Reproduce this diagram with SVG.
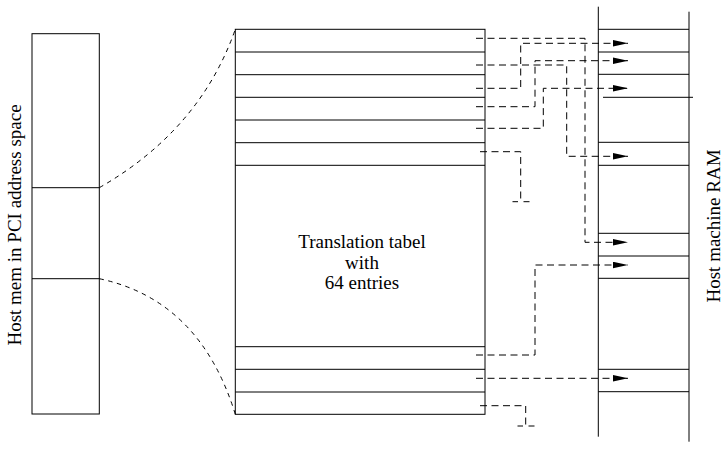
<svg xmlns="http://www.w3.org/2000/svg" width="726" height="454" viewBox="0 0 726 454">
  <style>
    .box { fill: none; stroke: #000; stroke-width: 1; }
    .sep { stroke: #000; stroke-width: 1; }
    .map { fill: none; stroke: #000; stroke-width: 1; stroke-dasharray: 4.5 4.5; }
    .ptr { fill: none; stroke: #000; stroke-width: 1; stroke-dasharray: 7 4.5; }
    .lbl { font-family: "Liberation Serif", "Times New Roman", serif; font-size: 19px; fill: #000; }
  </style>
  <defs>
    <marker id="head" markerUnits="userSpaceOnUse" markerWidth="15" markerHeight="7" refX="15" refY="3.25" orient="auto">
      <path d="M0,0 L15,3.25 L0,6.5 Z" fill="#000"/>
    </marker>
  </defs>

  <!-- PCI address window -->
  <g id="pci-window">
    <rect class="box" x="32" y="33.7" width="67.3" height="380.3"/>
    <line class="sep" x1="32" y1="187.7" x2="99.3" y2="187.7"/>
    <line class="sep" x1="32" y1="278.7" x2="99.3" y2="278.7"/>
    <text class="lbl" transform="translate(21,225) rotate(-90)" text-anchor="middle">Host mem in PCI address space</text>
  </g>

  <!-- Translation table -->
  <g id="translation-table">
    <rect class="box" x="235.3" y="29.3" width="249.7" height="385"/>
    <line class="sep" x1="235.3" y1="52" x2="485" y2="52"/>
    <line class="sep" x1="235.3" y1="74.7" x2="485" y2="74.7"/>
    <line class="sep" x1="235.3" y1="97.3" x2="485" y2="97.3"/>
    <line class="sep" x1="235.3" y1="120" x2="485" y2="120"/>
    <line class="sep" x1="235.3" y1="142.7" x2="485" y2="142.7"/>
    <line class="sep" x1="235.3" y1="165.3" x2="485" y2="165.3"/>
    <line class="sep" x1="235.3" y1="346.7" x2="485" y2="346.7"/>
    <line class="sep" x1="235.3" y1="369.3" x2="485" y2="369.3"/>
    <line class="sep" x1="235.3" y1="392" x2="485" y2="392"/>
    <text class="lbl" x="362" y="248" text-anchor="middle">Translation tabel</text>
    <text class="lbl" x="362" y="268.5" text-anchor="middle">with</text>
    <text class="lbl" x="362" y="289" text-anchor="middle">64 entries</text>
  </g>

  <!-- Host RAM -->
  <g id="host-ram">
    <line class="sep" x1="598.3" y1="6.7" x2="598.3" y2="436.7"/>
    <line class="sep" x1="689" y1="11.7" x2="689" y2="441.7"/>
    <line class="sep" x1="598.3" y1="29.3" x2="689" y2="29.3"/>
    <line class="sep" x1="598.3" y1="52" x2="689" y2="52"/>
    <line class="sep" x1="598.3" y1="74.3" x2="689" y2="74.3"/>
    <line class="sep" x1="603" y1="97.3" x2="693" y2="97.3"/>
    <line class="sep" x1="598.3" y1="142.3" x2="689" y2="142.3"/>
    <line class="sep" x1="598.3" y1="165.3" x2="689" y2="165.3"/>
    <line class="sep" x1="598.3" y1="233.3" x2="689" y2="233.3"/>
    <line class="sep" x1="598.3" y1="256" x2="689" y2="256"/>
    <line class="sep" x1="598.3" y1="278.3" x2="689" y2="278.3"/>
    <line class="sep" x1="598.3" y1="369.3" x2="689" y2="369.3"/>
    <line class="sep" x1="598.3" y1="391.7" x2="689" y2="391.7"/>
    <text class="lbl" transform="translate(720,226) rotate(-90)" text-anchor="middle">Host machine RAM</text>
  </g>

  <!-- Connectors -->
  <g id="connectors">
    <!-- window edges mapped onto the table -->
    <path class="map" d="M99.3,187.7 Q200,130 235.3,29.3"/>
    <path class="map" d="M99.3,278.7 Q200,300 235.3,414.3"/>

    <!-- table entries pointing into RAM pages -->
    <path class="ptr" d="M476,38.3 H585 V242.3 H628" marker-end="url(#head)"/>
    <path class="ptr" d="M476,65 H566.7 V156.3 H628" marker-end="url(#head)"/>
    <path class="ptr" d="M476,88.3 H520.7 V43.3 H628" marker-end="url(#head)"/>
    <path class="ptr" d="M476,106.7 H535 V60.7 H628" marker-end="url(#head)"/>
    <path class="ptr" d="M476,128.3 H543.3 V88.3 H628" marker-end="url(#head)"/>
    <path class="ptr" d="M476,355 H535 V265 H628" marker-end="url(#head)"/>
    <path class="ptr" d="M476,378.3 H628" marker-end="url(#head)"/>

    <!-- unused entries ending in a null stub -->
    <path class="ptr" d="M480,151.7 H520.7 V201.7"/>
    <path class="sep" d="M512.5,201.7 H518 M523.5,201.7 H529.5" fill="none"/>
    <path class="ptr" d="M480,405.7 H525.7 V426"/>
    <path class="sep" d="M517.5,426 H523 M528.5,426 H534.5" fill="none"/>
  </g>
</svg>
